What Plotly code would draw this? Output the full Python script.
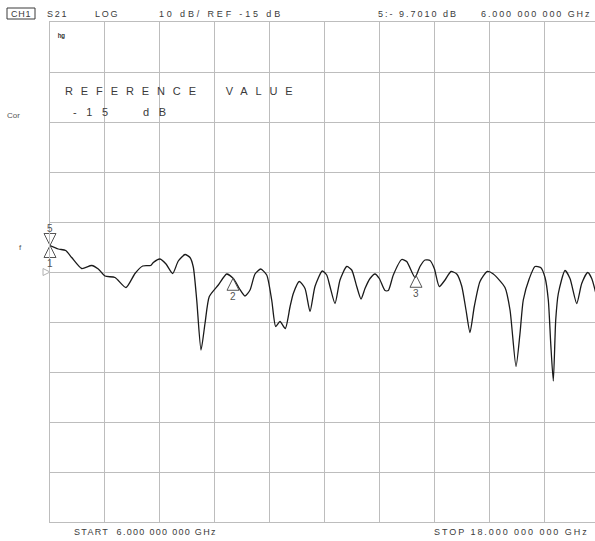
import numpy as np
import plotly.graph_objects as go

# S21 sweep, 6-18 GHz (frequency in GHz, magnitude in dB)
freq_ghz = [
    6.000, 6.181, 6.343, 6.474, 6.693, 6.911, 7.056, 7.202, 7.421, 7.661,
    7.858, 8.026, 8.201, 8.258, 8.404, 8.536, 8.682, 8.804, 8.951, 9.060,
    9.132, 9.207, 9.301, 9.388, 9.482, 9.679, 9.862, 10.007, 10.138, 10.262,
    10.372, 10.481, 10.606, 10.737, 10.846, 10.933, 11.027, 11.143, 11.246, 11.318,
    11.449, 11.574, 11.683, 11.792, 11.952, 12.048, 12.120, 12.230, 12.339, 12.485,
    12.595, 12.704, 12.798, 12.885, 12.995, 13.104, 13.198, 13.322, 13.395, 13.504,
    13.687, 13.797, 13.978, 14.087, 14.197, 14.306, 14.400, 14.509, 14.634, 14.765,
    14.890, 14.999, 15.093, 15.180, 15.274, 15.399, 15.558, 15.690, 15.945, 16.055,
    16.186, 16.273, 16.345, 16.477, 16.601, 16.725, 16.820, 16.892, 16.945, 17.001,
    17.054, 17.111, 17.257, 17.366, 17.513, 17.622, 17.753, 17.841, 17.913, 18.000,
]
s21_db = [
    -9.70, -10.4, -10.7, -12.1, -14.3, -13.7, -14.4, -15.8, -16.1, -18.1,
    -15.3, -13.8, -13.7, -13.1, -12.4, -13.4, -15.3, -12.8, -11.5, -12.1,
    -14.0, -20.6, -30.6, -25.3, -19.9, -17.6, -15.4, -16.3, -18.3, -19.8,
    -18.6, -15.4, -14.4, -15.6, -20.6, -25.9, -24.9, -26.3, -22.0, -19.3,
    -16.9, -18.3, -22.9, -17.9, -14.8, -15.6, -17.9, -21.3, -16.6, -13.9,
    -14.6, -17.9, -20.4, -18.3, -16.3, -15.4, -16.3, -18.7, -18.7, -15.6,
    -12.5, -12.9, -16.1, -13.9, -12.6, -12.7, -14.3, -17.9, -16.6, -14.9,
    -15.4, -17.8, -22.6, -27.1, -21.9, -16.9, -14.9, -15.4, -18.1, -22.6,
    -33.9, -27.3, -20.6, -16.3, -13.9, -14.1, -16.1, -20.6, -29.3, -36.8,
    -24.6, -19.3, -14.7, -16.3, -21.3, -17.3, -15.1, -16.3, -18.6, -22.0,
]

# Markers: (number, frequency in GHz); marker 5 is the active one
marker_ids = ["1", "2", "3", "4"]
marker_freqs = [6.0, 10.0, 14.0, 18.0]
active_id = "5"
active_freq = 6.0

start_ghz, stop_ghz = 6.0, 18.0
ref_db, db_per_div = -15.0, 10.0

# Screen geometry of the graticule (pixels)
W, H = 595, 541
L, R, T, B = 50, 595, 22, 522
full_width = 549  # ten divisions; the right edge runs off the screen
x_end = start_ghz + (stop_ghz - start_ghz) * (R - L) / full_width


def px(x):
    return (x - L) / (R - L)


def py(y):
    return (B - y) / (B - T)


def spaced(text, ls):
    return f'<span style="letter-spacing:{ls}px">{text}</span>'


ink = "#3a3a3a"
grid = "#bdbdbd"
font = "Liberation Sans, Arial, sans-serif"

fig = go.Figure()

fig.add_trace(go.Scatter(
    x=freq_ghz, y=s21_db, mode="lines",
    line=dict(color="#1a1a1a", width=1.3, shape="spline", smoothing=0.6),
    hoverinfo="skip", showlegend=False,
))

m_vals = list(np.interp(marker_freqs, freq_ghz, s21_db))
a_val = float(np.interp(active_freq, freq_ghz, s21_db))

# inactive markers: open triangles hanging below the trace
fig.add_trace(go.Scatter(
    x=marker_freqs, y=m_vals, mode="markers", cliponaxis=False,
    marker=dict(symbol="arrow-up-open", size=12,
                line=dict(color="#555555", width=1), color="#555555"),
    hoverinfo="skip", showlegend=False,
))
# active marker: triangle pointing down onto the trace
fig.add_trace(go.Scatter(
    x=[active_freq], y=[a_val], mode="markers", cliponaxis=False,
    marker=dict(symbol="arrow-down-open", size=12,
                line=dict(color="#555555", width=1), color="#555555"),
    hoverinfo="skip", showlegend=False,
))
# reference position pointer at the left edge
fig.add_trace(go.Scatter(
    x=[start_ghz], y=[ref_db], mode="markers", cliponaxis=False,
    marker=dict(symbol="arrow-right-open", size=7,
                line=dict(color="#b0b0b0", width=1), color="#b0b0b0"),
    hoverinfo="skip", showlegend=False,
))

ann = []
for mid, f, v in zip(marker_ids, marker_freqs, m_vals):
    ann.append(dict(x=f, y=v, xref="x", yref="y", text=mid, showarrow=False,
                    yshift=-18, font=dict(size=10, color="#555555", family=font)))
ann.append(dict(x=active_freq, y=a_val, xref="x", yref="y", text=active_id,
                showarrow=False, yshift=17,
                font=dict(size=10, color="#555555", family=font)))


def label(x, y, text, size=9, anchor="left", color=ink, **kw):
    ann.append(dict(x=px(x), y=py(y), xref="paper", yref="paper", text=text,
                    showarrow=False, xanchor=anchor, yanchor="middle",
                    font=dict(size=size, color=color, family=font), **kw))


# header line
label(21, 13.5, spaced("CH1", 0.8), anchor="center")
label(45, 14, spaced("S21", 1.8))
label(93, 14, spaced("LOG", 1.8))
label(157, 14, spaced("10 dB/ REF -15 dB", 2.85))
label(376, 14, spaced("5:- 9.7010 dB", 2.0))
label(593, 14, spaced("6.000 000 000 GHz", 1.9), anchor="right")

# left-margin annotations
label(5, 115, "Cor", size=8, color="#555555")
label(17, 248, "f", size=8, color="#555555")
label(56, 37, "<b>ʰᵍ</b>", size=9, color="#333333")

# reference value readout inside the graticule
label(63, 91, spaced("REFERENCE  VALUE", 7.9), size=11)
label(71, 112, spaced("-15  dB", 9.6), size=11)

# sweep limits
label(72, 532, spaced("START  6.000 000 000 GHz", 1.3))
label(432, 532, spaced("STOP 18.000 000 000 GHz", 1.95))

shapes = [dict(type="rect", xref="paper", yref="paper",
               x0=px(7), x1=px(35), y0=py(19), y1=py(8),
               line=dict(color=ink, width=1))]

fig.update_layout(
    width=W, height=H,
    margin=dict(l=L, r=W - R, t=T, b=H - B, pad=0),
    paper_bgcolor="white", plot_bgcolor="white",
    annotations=ann, shapes=shapes,
    xaxis=dict(range=[start_ghz, x_end], tick0=start_ghz,
               dtick=(stop_ghz - start_ghz) / 10,
               showgrid=True, gridcolor=grid, gridwidth=1,
               showline=True, linecolor=grid, linewidth=1, mirror=True,
               zeroline=False, showticklabels=False, ticks=""),
    yaxis=dict(range=[ref_db - 5 * db_per_div, ref_db + 5 * db_per_div],
               tick0=ref_db, dtick=db_per_div,
               showgrid=True, gridcolor=grid, gridwidth=1,
               showline=True, linecolor=grid, linewidth=1, mirror=False,
               zeroline=False, showticklabels=False, ticks=""),
)

fig.write_html("out.html")
